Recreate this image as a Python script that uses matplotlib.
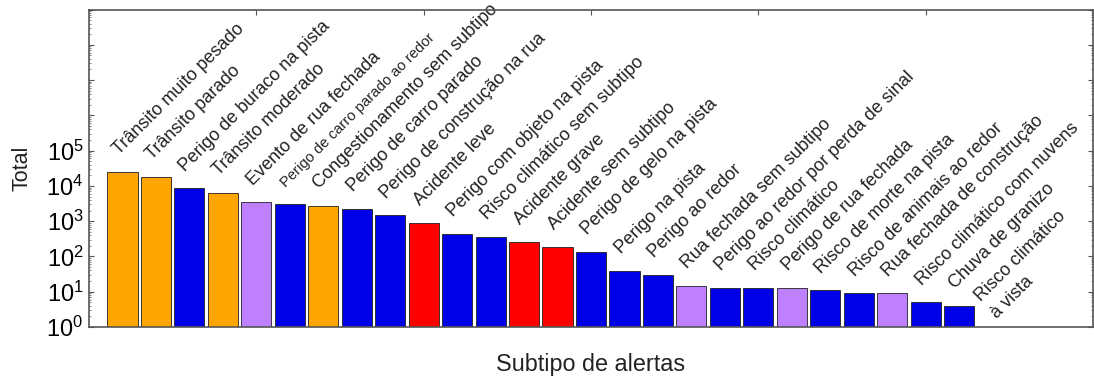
import numpy as np
import matplotlib
matplotlib.use("Agg")
import matplotlib.pyplot as plt
from matplotlib.ticker import FixedLocator, FuncFormatter, LogLocator, NullFormatter

plt.rcParams["font.family"] = ["Liberation Sans", "DejaVu Sans"]
plt.rcParams["mathtext.fontset"] = "custom"
plt.rcParams["mathtext.rm"] = "Liberation Sans"
plt.rcParams["mathtext.it"] = "Liberation Sans:italic"

# alert subtypes, sorted by total count
subtipos = [
    "Trânsito muito pesado", "Trânsito parado", "Perigo de buraco na pista",
    "Trânsito moderado", "Evento de rua fechada", "Perigo de carro parado ao redor",
    "Congestionamento sem subtipo", "Perigo de carro parado", "Perigo de construção na rua",
    "Acidente leve", "Perigo com objeto na pista", "Risco climático sem subtipo",
    "Acidente grave", "Acidente sem subtipo", "Perigo de gelo na pista",
    "Perigo na pista", "Perigo ao redor", "Rua fechada sem subtipo",
    "Perigo ao redor por perda de sinal", "Risco climático", "Perigo de rua fechada",
    "Risco de morte na pista", "Risco de animais ao redor", "Rua fechada de construção",
    "Risco climático com nuvens", "Chuva de granizo", "Risco climático\nà vista",
]
totais = [25000, 18000, 8500, 6400, 3400, 3000, 2750, 2250, 1500, 910,
          435, 363, 262, 189, 136, 39, 30, 15, 13, 13,
          13, 11, 9, 9, 5, 4, 1]
# alert type of each subtype: J = jam, H = hazard, A = accident, R = road closed
tipos = ["J", "J", "H", "J", "R", "H", "J", "H", "H", "A",
         "H", "H", "A", "A", "H", "H", "H", "R", "H", "H",
         "R", "H", "H", "R", "H", "H", "H"]

cores_tipo = {"J": "#FFA500", "H": "#0000E6", "A": "#FF0000", "R": "#BF80FF"}
cores = [cores_tipo[t] for t in tipos]
pos = np.arange(1, len(subtipos) + 1)

fig = plt.figure(figsize=(10.94, 3.78), dpi=100)
ax = fig.add_axes([89 / 1094, 1 - 327 / 378, 1004 / 1094, 317.5 / 378])

ax.bar(pos, totais, width=0.9, color=cores, edgecolor="#202020", linewidth=0.6, zorder=2)
ax.set_yscale("log")
ax.set_ylim(1, 1e9)
ax.set_xlim(0, 30)

for x, v, nome in zip(pos, totais, subtipos):
    fs = 10.6 if nome == "Perigo de carro parado ao redor" else 13
    ax.annotate(nome, (x, v), xytext=(-5, 14), textcoords="offset points",
                rotation=45, rotation_mode="anchor", ha="left", va="center",
                fontsize=fs, color="#222222", linespacing=1.5)

# only the lower decades get a label
ax.yaxis.set_major_locator(FixedLocator([10.0 ** k for k in range(10)]))
ax.yaxis.set_major_formatter(FuncFormatter(
    lambda v, _: r"$\mathdefault{10^{%d}}$" % round(np.log10(v)) if v <= 1e5 else ""))
ax.yaxis.set_minor_locator(LogLocator(base=10, subs=np.arange(2, 10), numticks=20))
ax.yaxis.set_minor_formatter(NullFormatter())
ax.xaxis.set_major_locator(FixedLocator([5, 10, 15, 20, 25]))
ax.set_xticklabels([])

ax.tick_params(which="both", direction="in", top=True, right=True, color="#555555")
ax.tick_params(which="major", length=3.5, width=0.8, labelsize=17, pad=4)
ax.tick_params(which="minor", length=1.5, width=0.5)
for s in ax.spines.values():
    s.set_color("#555555")
    s.set_linewidth(1.2)
    s.set_zorder(3)

ax.set_ylabel("Total", fontsize=15.5, labelpad=10, color="#222222")
ax.set_xlabel("Subtipo de alertas", fontsize=16.8, labelpad=15, color="#222222")

fig.savefig("out.png", dpi=100)
